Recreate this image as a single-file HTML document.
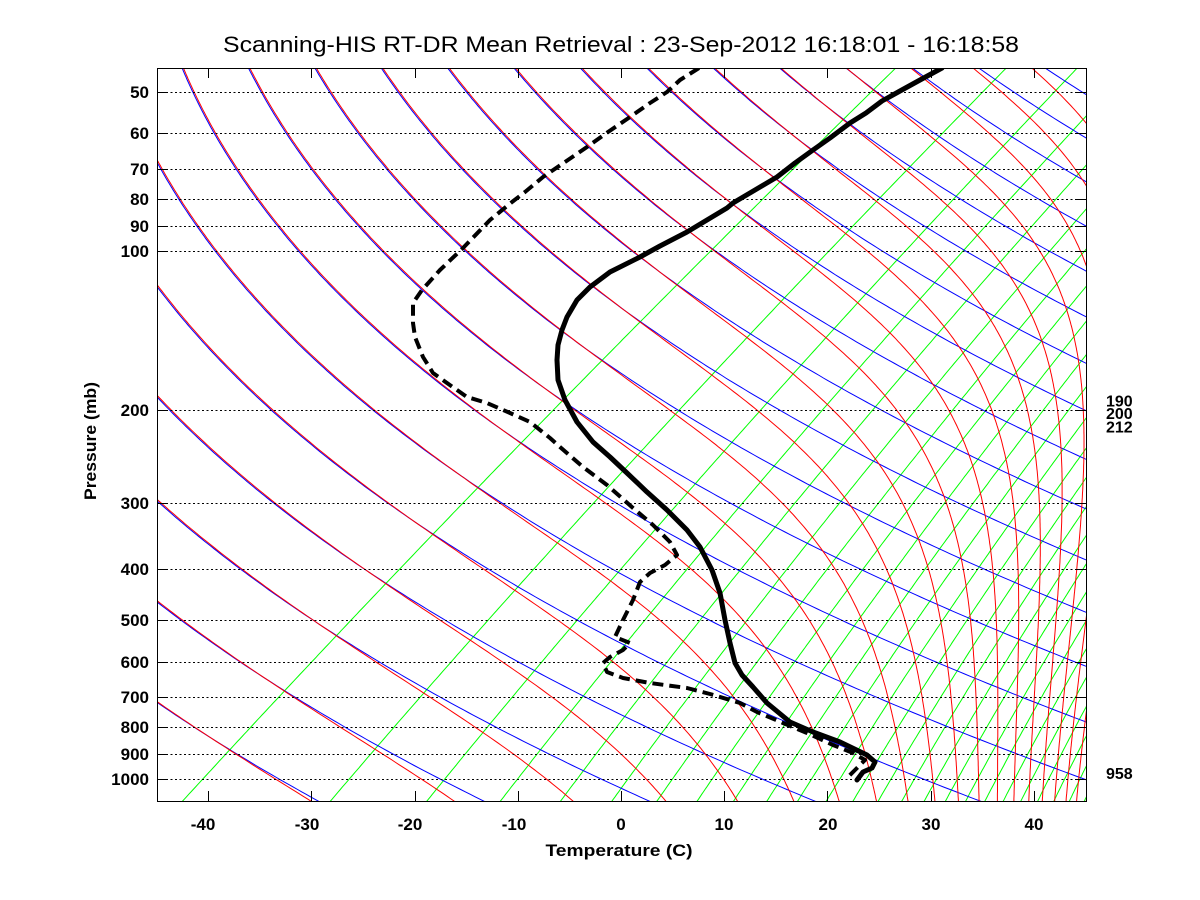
<!DOCTYPE html>
<html><head><meta charset="utf-8">
<style>
html,body{margin:0;padding:0;background:#fff;}
svg{display:block;}
text{font-family:"Liberation Sans",Arial,Helvetica,sans-serif;fill:#000;}
.b{font-weight:bold;font-size:17px;}
</style></head><body>
<svg id="s" width="1200" height="900" viewBox="0 0 1200 900" xmlns="http://www.w3.org/2000/svg">
<defs><clipPath id="c"><rect x="157" y="68" width="929" height="733"/></clipPath></defs>
<rect width="1200" height="900" fill="#fff"/>
<g clip-path="url(#c)" fill="none" stroke-width="1">
<g id="gg"></g>
<g id="gb"></g>
<g id="gr" transform="translate(1.1,-0.6)"></g>
</g>
<g stroke="#000" stroke-width="1" stroke-dasharray="2 2.5" fill="none">
<path d="M157 92.5H1086M157 133.5H1086M157 169.5H1086M157 199.5H1086M157 226.5H1086M157 251.5H1086M157 410.5H1086M157 503.5H1086M157 569.5H1086M157 620.5H1086M157 662.5H1086M157 697.5H1086M157 727.5H1086M157 754.5H1086M157 779.5H1086"/>
</g>
<g clip-path="url(#c)" fill="none" stroke="#000" stroke-linejoin="round">
<polyline stroke-width="5" stroke-linecap="round" points="942,68 920,80 900,91 882,101 866,113 850,123 830,138 813,150 795,163 777,177 755,190 733,203 727,208 707,220 687,232 660,246 640,257 610,272 590,287 577,300 567,317 562,330 558,345 557,360 558,380 565,400 577,422 593,442 610,457 627,473 647,492 667,510 687,530 700,547 712,570 720,593 725,620 730,643 735,663 742,675 753,687 767,703 790,722 813,732 840,742 867,755 875,762 872,768 863,772 857,780"/>
<polyline stroke-width="4" stroke-dasharray="11 6" points="699,68 680,80 667,92 650,103 630,117 608,132 587,147 565,162 543,177 525,192 512,202 490,220 463,248 440,270 422,290 413,303 413,323 415,337 423,357 433,373 447,383 467,397 487,403 510,413 530,422 550,438 560,447 583,467 607,485 633,508 653,525 670,542 677,555 665,565 650,573 640,582 633,600 623,620 615,637 630,643 623,650 610,657 603,663 607,672 623,678 650,683 687,688 710,694 740,703 757,712 783,723 807,733 833,745 853,753 865,760 862,763 855,770 847,778"/>
</g>
<rect x="157.5" y="68.5" width="929" height="733" fill="none" stroke="#000" stroke-width="1"/>
<g stroke="#000" stroke-width="1" fill="none">
<path d="M157 92.5h10M157 133.5h10M157 169.5h10M157 199.5h10M157 226.5h10M157 251.5h10M157 410.5h10M157 503.5h10M157 569.5h10M157 620.5h10M157 662.5h10M157 697.5h10M157 727.5h10M157 754.5h10M157 779.5h10"/>
<path d="M1076 92.5h10M1076 133.5h10M1076 169.5h10M1076 199.5h10M1076 226.5h10M1076 251.5h10M1076 410.5h10M1076 503.5h10M1076 569.5h10M1076 620.5h10M1076 662.5h10M1076 697.5h10M1076 727.5h10M1076 754.5h10M1076 779.5h10"/>
<path d="M208.5 801v-10M311.5 801v-10M415.5 801v-10M518.5 801v-10M621.5 801v-10M724.5 801v-10M827.5 801v-10M931.5 801v-10M1034.5 801v-10"/>
<path d="M208.5 68v10M311.5 68v10M415.5 68v10M518.5 68v10M621.5 68v10M724.5 68v10M827.5 68v10M931.5 68v10M1034.5 68v10"/>
</g>
<g class="b" text-anchor="end">
<text x="149" y="98">50</text>
<text x="149" y="139">60</text>
<text x="149" y="175">70</text>
<text x="149" y="205">80</text>
<text x="149" y="232">90</text>
<text x="149" y="257">100</text>
<text x="149" y="416">200</text>
<text x="149" y="509">300</text>
<text x="149" y="575">400</text>
<text x="149" y="626">500</text>
<text x="149" y="668">600</text>
<text x="149" y="703">700</text>
<text x="149" y="733">800</text>
<text x="149" y="760">900</text>
<text x="149" y="785">1000</text>
</g>
<g class="b" text-anchor="middle">
<text x="203" y="830">-40</text>
<text x="307" y="830">-30</text>
<text x="410" y="830">-20</text>
<text x="514" y="830">-10</text>
<text x="621" y="830">0</text>
<text x="724" y="830">10</text>
<text x="828" y="830">20</text>
<text x="931" y="830">30</text>
<text x="1034" y="830">40</text>
</g>
<text class="b" x="619" y="856" text-anchor="middle" textLength="147" lengthAdjust="spacingAndGlyphs">Temperature (C)</text>
<text class="b" transform="translate(96,441) rotate(-90)" text-anchor="middle" textLength="118" lengthAdjust="spacingAndGlyphs">Pressure (mb)</text>
<text x="621" y="52" text-anchor="middle" font-size="22" textLength="796" lengthAdjust="spacingAndGlyphs">Scanning-HIS RT-DR Mean Retrieval : 23-Sep-2012 16:18:01 - 16:18:58</text>
<g font-weight="bold" font-size="16">
<text x="1106" y="406.5">190</text>
<text x="1106" y="419">200</text>
<text x="1106" y="432.5">212</text>
<text x="1106" y="779">958</text>
</g>
</svg>
<script>
(function(){
var X0=157,X1=1086,Y0=68,Y1=801,PT=45,PB=1100;
var ys=(Y1-Y0)/Math.log(PB/PT), xs=(X1-X0)/90;
function yOf(p){return Y0+ys*Math.log(p/PT);}
function xOf(T,p){return X0+xs*(T+45+30*Math.log(1000/p));}
var ps=[];for(var i=0;i<=320;i++){ps.push(40*Math.pow(1150/40,i/320));}
function path(f){var d='';for(var i=0;i<ps.length;i++){var p=ps[i];var T=f(p);if(T===null||!isFinite(T))continue;var x=xOf(T,p),y=yOf(p);d+=(d?'L':'M')+x.toFixed(1)+' '+y.toFixed(1);}return d;}
var NS='http://www.w3.org/2000/svg';
function add(gid,d,c){if(!d)return;var e=document.createElementNS(NS,'path');e.setAttribute('d',d);e.setAttribute('stroke',c);document.getElementById(gid).appendChild(e);}
// mixing ratio lines (green)
for(var n=1;n<=42;n++){(function(w){add('gg',path(function(p){var e=w*p/(622+w);var L=Math.log(e/6.112);return 243.5*L/(17.67-L);}),'#00ff00');})(n*n/9);}
// dry adiabats (blue)
for(var k=0;k<=20;k++){(function(th){add('gb',path(function(p){return th*Math.pow(p/1000,0.2857)-273.15;}),'#0000ff');})(240+15.6*k);}
// moist adiabats (red)
function the(T,p){var Tk=T+273.15;var es=6.112*Math.exp(17.67*T/(T+243.5));var w=0.622*es/(p-es);var th=Tk*Math.pow(1000/p,0.2857);return th*Math.exp(2.5e6*w/(1005*Tk));}
for(var k=0;k<=20;k++){(function(tg){add('gr',path(function(p){
 var L=Math.log(0.6*p/6.112);var hi=Math.min(70,243.5*L/(17.67-L));var lo=-150;
 if(the(hi,p)<tg)return null; if(the(lo,p)>tg)return null;
 for(var j=0;j<50;j++){var m=(lo+hi)/2;if(the(m,p)<tg)lo=m;else hi=m;}
 return (lo+hi)/2;}),'#ff0000');})(240+15.6*k);}
})();
</script>
</body></html>
